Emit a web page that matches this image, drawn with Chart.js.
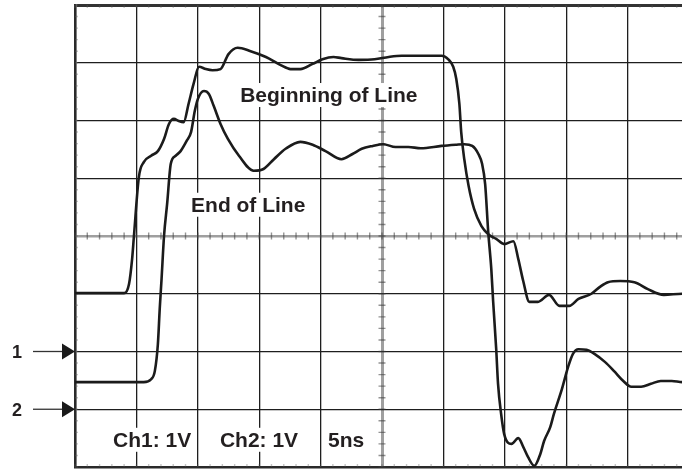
<!DOCTYPE html>
<html>
<head>
<meta charset="utf-8">
<script src="https://cdn.jsdelivr.net/npm/chart.js@4.4.1/dist/chart.umd.min.js"></script>
<style>
  html, body { margin: 0; padding: 0; background: #fff; overflow: hidden; }
  #wrap { width: 700px; height: 471px; }
</style>
</head>
<body>
<div id="wrap"><canvas id="scope" width="700" height="471"></canvas></div>
<script>
// screen positions in divisions: x 0..10 (5ns/div), y -4..4 (1V/div)
const beginX = [0,0.80,0.88,0.93,0.96,1.04,1.12,1.24,1.35,1.45,1.53,1.61,1.69,1.77,1.85,1.93,2.02,2.13,2.24,2.37,2.50,2.65,2.86,3.11,3.35,3.51,3.67,3.87,4.03,4.21,4.34,4.62,4.88,5.11,5.32,5.63,5.97,6.08,6.16,6.21,6.26,6.29,6.34,6.41,6.50,6.62,6.73,6.86,6.99,7.14,7.22,7.30,7.40,7.54,7.72,7.89,8.05,8.20,8.41,8.55,8.68,8.88,9.11,9.33,9.59,9.89,10];
const beginY = [-0.99,-0.99,-0.83,-0.40,0,1.02,1.28,1.39,1.47,1.68,1.94,2.03,1.99,1.97,2.29,2.63,2.93,2.89,2.87,2.89,3.15,3.26,3.20,3.10,2.96,2.89,2.89,2.98,3.06,3.10,3.08,3.05,3.06,3.10,3.12,3.12,3.12,3.06,2.93,2.72,2.29,1.80,1.33,0.87,0.47,0.17,0.03,-0.05,-0.14,-0.09,-0.40,-0.78,-1.14,-1.14,-1.02,-1.21,-1.21,-1.09,-1.00,-0.88,-0.80,-0.78,-0.80,-0.92,-1.02,-1.00,-1.00];

const endX = [0,1.12,1.24,1.30,1.35,1.38,1.41,1.45,1.50,1.56,1.64,1.72,1.82,1.89,1.95,2.00,2.10,2.18,2.26,2.37,2.49,2.67,2.91,3.07,3.24,3.43,3.67,3.87,4.08,4.34,4.52,4.67,4.85,5.02,5.22,5.43,5.63,5.97,6.20,6.34,6.47,6.57,6.63,6.68,6.73,6.78,6.81,6.86,6.89,6.94,6.99,7.11,7.22,7.30,7.38,7.48,7.58,7.64,7.74,7.80,7.93,8.03,8.11,8.20,8.33,8.46,8.63,8.78,8.93,9.06,9.22,9.38,9.54,9.72,9.89,10];
const endY = [-2.53,-2.53,-2.48,-2.34,-1.87,-1.26,-0.74,0,0.55,1.25,1.39,1.47,1.65,1.80,2.16,2.37,2.51,2.46,2.25,1.94,1.68,1.39,1.13,1.16,1.33,1.51,1.63,1.58,1.47,1.33,1.42,1.51,1.56,1.59,1.54,1.54,1.52,1.56,1.58,1.59,1.56,1.42,1.25,0.90,0.07,-0.57,-1.13,-1.96,-2.56,-3.08,-3.43,-3.60,-3.50,-3.65,-3.83,-3.98,-3.77,-3.55,-3.31,-3.08,-2.65,-2.27,-2.04,-1.96,-1.97,-2.04,-2.18,-2.34,-2.51,-2.61,-2.61,-2.56,-2.51,-2.51,-2.53,-2.53];

// channel ground markers (division where each channel's 0V sits)
const markerNames = ['1', '2'];
const markerLevels = [-2, -3];

// captions inside the screen: text, left edge (div), baseline (div)
const captions = [
  { text: 'Beginning of Line', x: 2.69, y: 2.32 },
  { text: 'End of Line', x: 1.89, y: 0.42 },
  { text: 'Ch1: 1V', x: 0.62, y: -3.65 },
  { text: 'Ch2: 1V', x: 2.36, y: -3.65 },
  { text: '5ns', x: 4.12, y: -3.65 }
];

function pts(xs, ys) {
  return xs.map((v, i) => ({ x: v, y: ys[i] }));
}

const scopeDecor = {
  id: 'scopeDecor',
  beforeDatasetsDraw(chart) {
    const { ctx, chartArea: a, scales: { x, y } } = chart;
    const x0 = x.getPixelForValue(5), y0 = y.getPixelForValue(0);
    ctx.save();
    // minor ticks on the centre cross
    ctx.strokeStyle = 'rgba(60,60,60,0.55)';
    ctx.lineWidth = 1.4;
    ctx.beginPath();
    for (let i = 0; i <= 50; i++) {
      const px = x.getPixelForValue(i * 0.2);
      ctx.moveTo(px, y0 - 3.5); ctx.lineTo(px, y0 + 3.5);
    }
    for (let i = 0; i <= 40; i++) {
      const py = y.getPixelForValue(-4 + i * 0.2);
      ctx.moveTo(x0 - 3.5, py); ctx.lineTo(x0 + 3.5, py);
    }
    ctx.stroke();
    // fainter ticks along the frame
    ctx.strokeStyle = 'rgba(90,90,90,0.35)';
    ctx.beginPath();
    for (let i = 0; i <= 50; i++) {
      const px = x.getPixelForValue(i * 0.2);
      ctx.moveTo(px, a.top); ctx.lineTo(px, a.top + 3);
      ctx.moveTo(px, a.bottom); ctx.lineTo(px, a.bottom - 3);
    }
    for (let i = 0; i <= 40; i++) {
      const py = y.getPixelForValue(-4 + i * 0.2);
      ctx.moveTo(a.left, py); ctx.lineTo(a.left + 3, py);
    }
    ctx.stroke();

    // captions on white backing
    ctx.font = 'bold 21px "Liberation Sans", Arial, sans-serif';
    ctx.textBaseline = 'alphabetic';
    ctx.textAlign = 'left';
    captions.forEach(c => {
      const px = x.getPixelForValue(c.x), py = y.getPixelForValue(c.y);
      const w = ctx.measureText(c.text).width;
      ctx.fillStyle = '#fff';
      ctx.fillRect(px - 4, py - 19, w + 8, 24);
      ctx.fillStyle = '#231f20';
      ctx.fillText(c.text, px, py);
    });
    ctx.restore();
  },
  afterDraw(chart) {
    const { ctx, chartArea: a, scales: { y } } = chart;
    ctx.save();
    ctx.font = 'bold 18px "Liberation Sans", Arial, sans-serif';
    ctx.textBaseline = 'middle';
    ctx.textAlign = 'left';
    markerNames.forEach((name, i) => {
      const py = y.getPixelForValue(markerLevels[i]);
      ctx.strokeStyle = '#333';
      ctx.lineWidth = 1.3;
      ctx.beginPath();
      ctx.moveTo(33, py); ctx.lineTo(62, py);
      ctx.stroke();
      ctx.fillStyle = '#1a1a1a';
      ctx.beginPath();
      ctx.moveTo(62, py - 8); ctx.lineTo(a.left, py); ctx.lineTo(62, py + 8);
      ctx.closePath();
      ctx.fill();
      ctx.fillStyle = '#231f20';
      ctx.fillText(name, 12, py + 2);
    });
    ctx.restore();
  }
};

const ctx = document.getElementById('scope').getContext('2d');
const traceStyle = {
  showLine: true,
  borderColor: '#1b1b1b',
  borderWidth: 2.6,
  pointRadius: 0,
  cubicInterpolationMode: 'monotone',
  fill: false
};

new Chart(ctx, {
  type: 'scatter',
  data: {
    datasets: [
      { label: 'Beginning of Line', data: pts(beginX, beginY), ...traceStyle },
      { label: 'End of Line', data: pts(endX, endY), ...traceStyle }
    ]
  },
  options: {
    responsive: false,
    animation: false,
    layout: { padding: { left: 75, top: 5, right: 11, bottom: 4 } },
    plugins: { legend: { display: false }, tooltip: { enabled: false } },
    scales: {
      x: {
        type: 'linear', min: 0, max: 10,
        ticks: { display: false, stepSize: 1 },
        grid: {
          drawTicks: false,
          color: c => c.tick.value === 5 ? 'rgba(80,80,80,0.55)' : '#1e1e1e',
          lineWidth: c => c.tick.value === 5 ? 3 : 1.3
        },
        border: { display: true, color: '#2a2a2a', width: 2.6 }
      },
      y: {
        type: 'linear', min: -4, max: 4,
        ticks: { display: false, stepSize: 1 },
        grid: {
          drawTicks: false,
          color: c => c.tick.value === 0 ? 'rgba(80,80,80,0.55)' : (c.tick.value === 4 ? '#333' : '#1e1e1e'),
          lineWidth: c => c.tick.value === 0 ? 2.6 : (c.tick.value === 4 ? 3 : 1.3)
        },
        border: { display: true, color: '#2a2a2a', width: 2.6 }
      }
    }
  },
  plugins: [scopeDecor]
});
</script>
</body>
</html>
